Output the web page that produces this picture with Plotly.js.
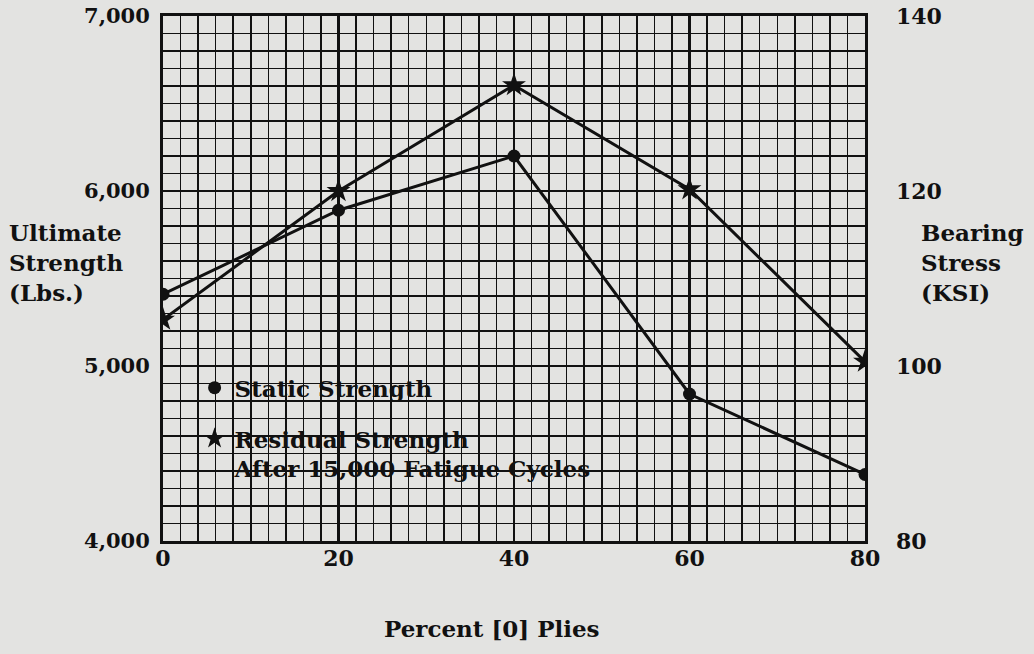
<!DOCTYPE html>
<html>
<head>
<meta charset="utf-8">
<script src="https://cdn.plot.ly/plotly-3.0.1.min.js"></script>
<style>html,body{margin:0;padding:0;background:#e3e3e1;}</style>
</head>
<body>
<div id="chart" style="width:1034px;height:654px;"></div>
<script>
const percentPlies = [0, 20, 40, 60, 80];
const staticStrength = [5410, 5890, 6200, 4840, 4380];     // Lbs (left axis)
const residualStress = [105.3, 120, 132.1, 120.2, 100.5];  // KSI (right axis)
const leftTicks = [4000, 5000, 6000, 7000];
const leftTickText = ['4,000', '5,000', '6,000', '7,000'];
const rightTicks = [80, 100, 120, 140];
const xTicks = [0, 20, 40, 60, 80];

const F = 'DejaVu Serif, Liberation Serif, serif';
const bg = '#e3e3e1';
const fs = 22;

const traces = [
  {x: percentPlies, y: staticStrength, mode: 'lines', line: {color: '#111', width: 3}, showlegend: false, hoverinfo: 'skip'},
  {x: percentPlies, y: residualStress, yaxis: 'y2', mode: 'lines', line: {color: '#111', width: 3}, showlegend: false, hoverinfo: 'skip'},
  {x: percentPlies, y: staticStrength, mode: 'markers', name: 'Static Strength', legendgroup: 'a',
   marker: {symbol: 'circle', size: 13, color: '#111'}},
  {x: percentPlies, y: residualStress, yaxis: 'y2', mode: 'markers', name: 'Residual Strength<br>After 15,000 Fatigue Cycles', legendgroup: 'b',
   marker: {symbol: 'star', size: 18, color: '#111'}}
];

const layout = {
  width: 1034, height: 654,
  paper_bgcolor: bg, plot_bgcolor: bg,
  margin: {l: 163, r: 169, t: 16, b: 113},
  font: {family: F, color: '#111', size: fs, weight: 'bold'},
  xaxis: {
    range: [0, 80], tickvals: xTicks, ticks: '', ticklabelstandoff: -4,
    showgrid: true, gridcolor: '#111', gridwidth: 2.5,
    minor: {dtick: 2, tick0: 0, showgrid: true, gridcolor: '#111', gridwidth: 1.5},
    showline: true, linecolor: '#111', linewidth: 3, mirror: true, zeroline: false,
    tickfont: {family: F, size: fs, weight: 'bold'}
  },
  yaxis: {
    range: [4000, 7000], tickvals: leftTicks, ticktext: leftTickText, ticks: '', ticklabelstandoff: 6,
    showgrid: true, gridcolor: '#111', gridwidth: 2.5,
    minor: {dtick: 100, tick0: 4000, showgrid: true, gridcolor: '#111', gridwidth: 1.5},
    showline: true, linecolor: '#111', linewidth: 3, mirror: true, zeroline: false,
    tickfont: {family: F, size: 21, weight: 'bold'}
  },
  yaxis2: {
    range: [80, 140], overlaying: 'y', side: 'right', tickvals: rightTicks, ticks: '', ticklabelstandoff: 30,
    showgrid: false, zeroline: false, showline: false,
    tickfont: {family: F, size: fs, weight: 'bold'}
  },
  legend: {
    x: 0.045, y: 0.333, xanchor: 'left', yanchor: 'top', valign: 'top',
    bgcolor: 'rgba(0,0,0,0)', borderwidth: 0,
    traceorder: 'grouped', tracegroupgap: 18,
    font: {family: F, size: 23, weight: 'bold', color: '#111'}
  },
  annotations: [
    {xref: 'paper', yref: 'paper', x: -0.222, y: 0.531, xanchor: 'left', yanchor: 'middle', align: 'left',
     showarrow: false, text: 'Ultimate<br>Strength<br>(Lbs.)', font: {family: F, size: 23, weight: 'bold'}},
    {xref: 'paper', yref: 'paper', x: 1.077, y: 0.531, xanchor: 'left', yanchor: 'middle', align: 'left',
     showarrow: false, text: 'Bearing<br>Stress<br>(KSI)', font: {family: F, size: 23, weight: 'bold'}},
    {xref: 'paper', yref: 'paper', x: 0.469, y: -0.166, xanchor: 'center', yanchor: 'middle',
     showarrow: false, text: 'Percent [0] Plies', font: {family: F, size: 23, weight: 'bold'}}
  ]
};

Plotly.newPlot('chart', traces, layout, {displayModeBar: false, staticPlot: true});
</script>
</body>
</html>
